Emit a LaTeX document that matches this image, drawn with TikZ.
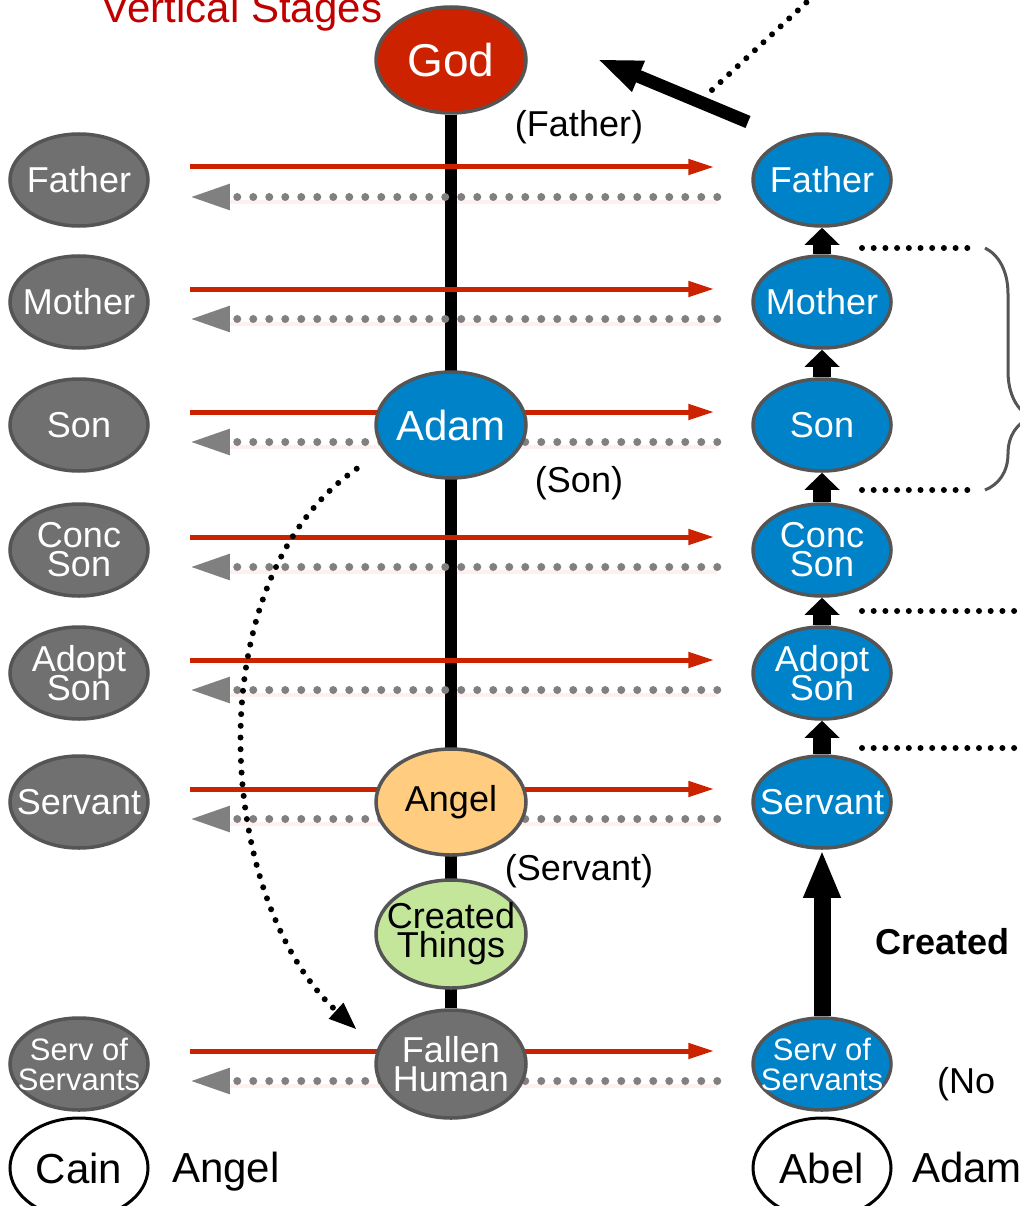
\documentclass[tikz,border=0pt]{standalone}
\usepackage{fontspec}
\setmainfont{Liberation Sans}
\usetikzlibrary{shapes.geometric,arrows.meta,decorations.pathreplacing,backgrounds}
\definecolor{godRed}{RGB}{204,34,0}
\definecolor{titleRed}{RGB}{192,0,0}
\definecolor{stageBlue}{RGB}{0,130,200}
\definecolor{fallenGrey}{RGB}{112,112,112}
\definecolor{rimGrey}{RGB}{85,85,85}
\definecolor{dotGrey}{RGB}{128,128,128}
\definecolor{angelOrange}{RGB}{255,204,128}
\definecolor{thingGreen}{RGB}{196,230,155}
\lineskiplimit=-100pt
\newcommand{\zl}[1]{\makebox[0pt]{#1}}

\tikzset{
  stage/.style={ellipse, draw=rimGrey, line width=3.5pt, inner sep=0pt,
    minimum width=138pt, minimum height=92pt, align=center,
    font={\fontsize{36}{29}\selectfont}},
  fallenstage/.style={stage, fill=fallenGrey, text=white},
  bluestage/.style={stage, fill=stageBlue, text=white},
  core/.style={stage, minimum width=150pt, minimum height=106pt},
  outline/.style={ellipse, draw=black, line width=3pt, inner sep=0pt,
    minimum width=138pt, minimum height=100pt, font={\fontsize{42}{44}\selectfont}},
  note/.style={inner sep=0pt, font={\fontsize{36}{38}\selectfont}},
  spine/.style={line width=12pt, black},
  redarrow/.style={godRed, line width=5pt, -{Triangle[length=26pt,width=15pt]}},
  backarrow/.style={dotGrey, line width=8pt, line cap=round, dash pattern=on 0pt off 16pt,
    -{Triangle[length=40pt,width=24pt]}},
  glow/.style={red!6, line width=4pt},
  climb/.style={black, line width=18pt, -{Triangle[length=17pt,width=34pt]}},
  lift/.style={black, line width=13pt, -{Triangle[length=45pt,width=30pt]}},
  dotline/.style={black, line width=6pt, line cap=round, dash pattern=on 0pt off 11.7pt},
  brace/.style={rimGrey, line width=3pt, decorate, decoration={brace, amplitude=46pt, aspect=0.7}}
}

\begin{document}
\begin{tikzpicture}[x=1pt, y=-1pt]
\useasboundingbox (0,0) rectangle (1019,1206);

% ── Title ──
\node[note, font={\fontsize{42}{44}\selectfont}, titleRed, anchor=base] (title) at (242,23) {Vertical Stages};

% ── Centre column ──
\node[core, fill=godRed, text=white, font={\fontsize{46}{48}\selectfont}] (god) at (451,60) {\zl{God}};
\node[core, fill=stageBlue, text=white, font={\fontsize{42}{44}\selectfont}] (adam) at (451,425) {\zl{Adam}};
\node[core, fill=angelOrange] (angel) at (451,802) {\zl{Angel}};
\node[core, fill=thingGreen, minimum height=108pt] (things) at (451,934) {\zl{Created}\\\zl{Things}};
\node[core, fill=fallenGrey, text=white, minimum height=108pt] (fallen) at (451,1064) {\zl{Fallen}\\\zl{Human}};

% ── Left (grey) and right (blue) stages ──
\foreach \nm/\txt/\y in {Father/{\zl{Father}}/180, Mother/{\zl{Mother}}/302, Son/{\zl{Son}}/425,
    Conc/{\zl{Conc}\\\zl{Son}}/550, Adopt/{\zl{Adopt}\\\zl{Son}}/673, Servant/{\zl{Servant}}/802} {
  \node[fallenstage] (l\nm) at (79,\y) {\txt};
  \node[bluestage] (r\nm) at (822,\y) {\txt};
}
\node[fallenstage, font={\fontsize{31}{30}\selectfont}] (lServ) at (79,1064) {\zl{Serv of}\\\zl{Servants}};
\node[bluestage, font={\fontsize{31}{30}\selectfont}] (rServ) at (822,1064) {\zl{Serv of}\\\zl{Servants}};

% ── Bottom pair ──
\node[outline] (cain) at (79,1168) {\zl{Cain}};
\node[note, font={\fontsize{42}{44}\selectfont}, anchor=base west] (cainNote) at (172,1182) {Angel};
\node[outline] (abel) at (822,1168) {\zl{Abel}};
\node[note, font={\fontsize{42}{44}\selectfont}, anchor=base west] (abelNote) at (912,1182) {Adam};

% ── Side notes ──
\node[note, anchor=base] (fatherNote) at (579,137) {(Father)};
\node[note, anchor=base] (sonNote) at (579,492) {(Son)};
\node[note, anchor=base] (servantNote) at (579,880) {(Servant)};
\node[note, font={\fontsize{36}{38}\selectfont\bfseries}, anchor=base west] (createdNote) at (875,954) {Created};
\node[note, anchor=base west] (noNote) at (937,1093) {(No};

% ── Spine and horizontal exchanges (behind the nodes) ──
\begin{scope}[on background layer]
  \foreach \nm in {Father,Mother,Son,Conc,Adopt,Servant,Serv}
    \draw[glow] ([xshift=-34pt,yshift=-22pt]r\nm.west) -- ([xshift=80pt,yshift=-22pt]l\nm.east);
  \draw[spine] (god) -- (fallen);
  \foreach \nm in {Father,Mother,Son,Conc,Adopt,Servant,Serv} {
    \draw[redarrow] ([xshift=40pt,yshift=13pt]l\nm.east) -- ([xshift=-37pt,yshift=13pt]r\nm.west);
    \draw[backarrow] ([xshift=-34pt,yshift=-17pt]r\nm.west) -- ([xshift=40pt,yshift=-17pt]l\nm.east);
  }
\end{scope}

% ── Right column climb ──
\draw[climb] (rMother) -- (rFather);
\draw[climb] (rSon) -- (rMother);
\draw[climb] (rConc) -- (rSon);
\draw[climb] (rAdopt) -- (rConc);
\draw[climb] (rServant) -- (rAdopt);
\draw[climb, line width=17pt, -{Triangle[length=48pt,width=34pt]}] (rServ) -- (rServant);

% ── Return to God ──
\coordinate (liftStart) at (748,122);
\coordinate (liftEnd) at (597,59);
\draw[lift] (liftStart) -- (liftEnd);
\coordinate (skyA) at (712,90);
\coordinate (skyB) at (822,-12);
\draw[dotline] (skyA) -- (skyB);

% ── Guides and brace ──
\foreach \y/\xe in {248/972, 490/972, 611/1030, 748/1030} {
  \coordinate (guideA\y) at (862,\y);
  \coordinate (guideB\y) at (\xe,\y);
  \draw[dotline] (guideA\y) -- (guideB\y);
}
\coordinate (braceTop) at (985,248);
\coordinate (braceBot) at (985,490);
\draw[brace] (braceTop) -- (braceBot);

% ── Fall ──
\draw[dotline, -{Triangle[length=28pt,width=20pt]}] ([xshift=-40pt,yshift=-5pt]adam.south west)
  .. controls (195,580) and (215,900) .. ([xshift=-40pt,yshift=-5pt]fallen.north west);

\end{tikzpicture}
\end{document}
